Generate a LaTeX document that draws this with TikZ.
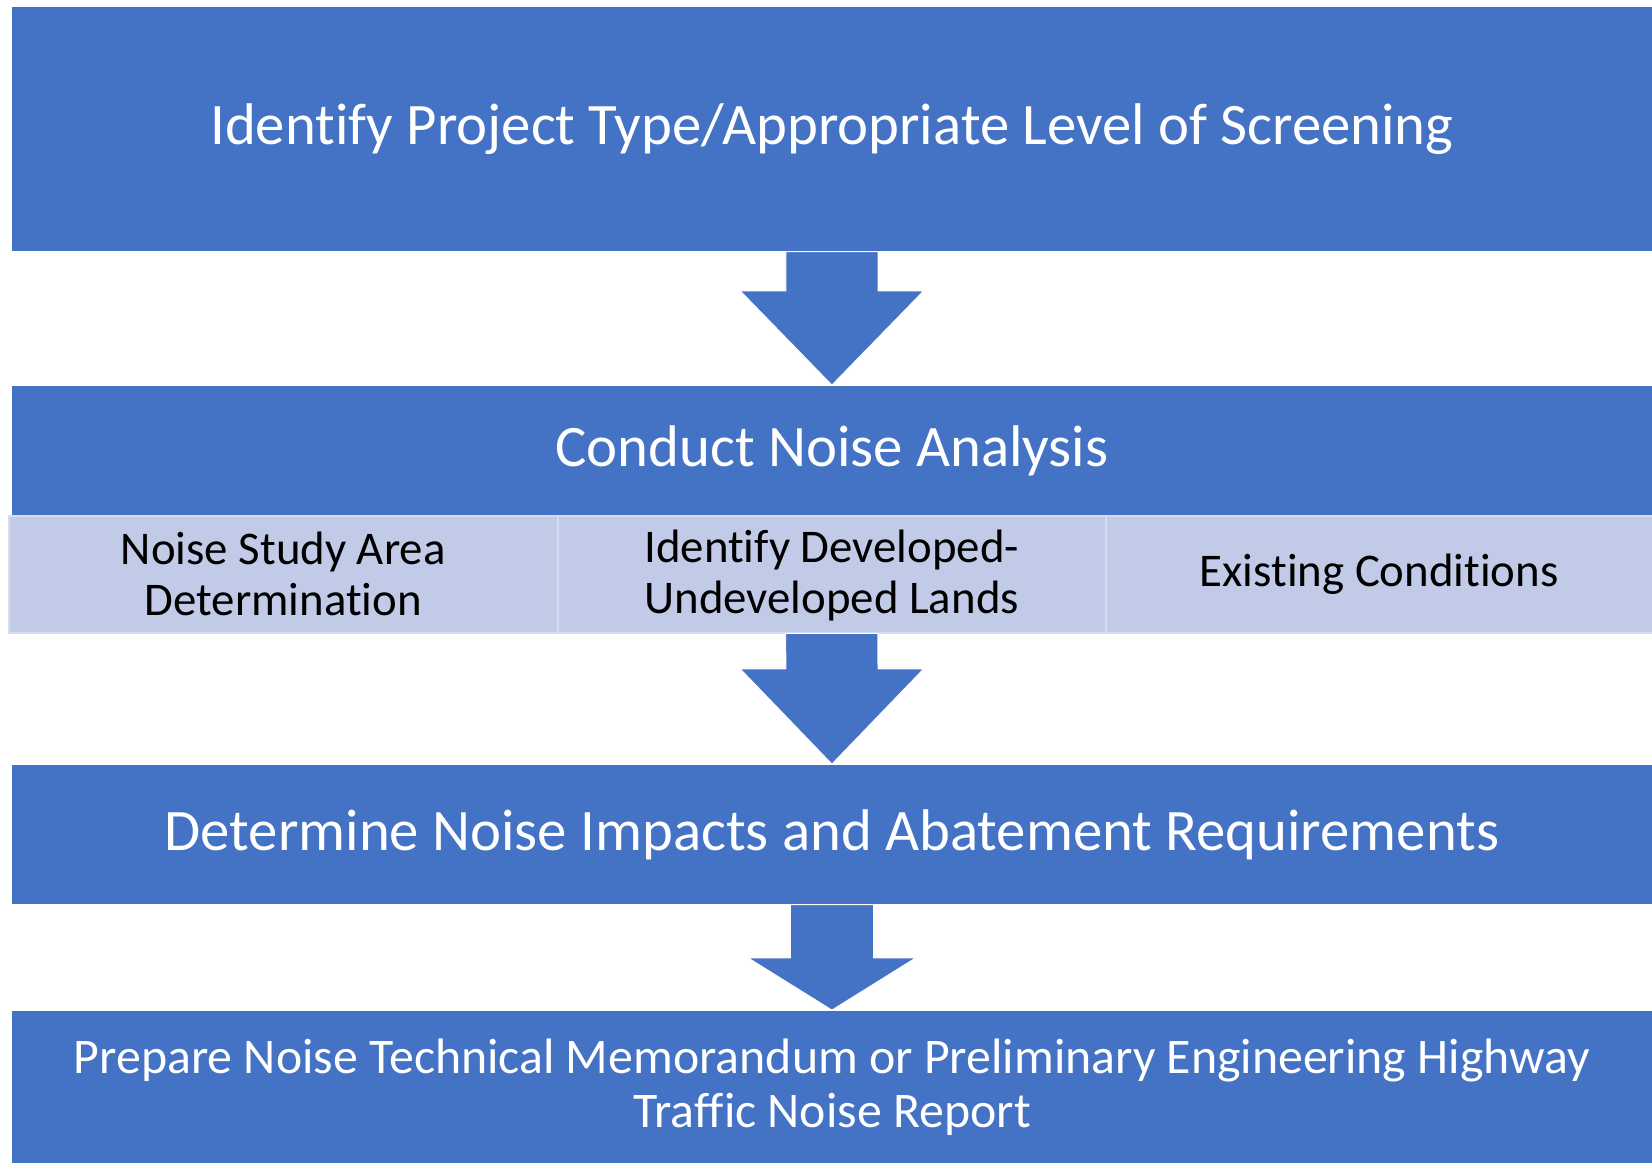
\documentclass[tikz,border=0pt]{standalone}
\usepackage{fontspec}
\setmainfont{Carlito}[RawFeature={-liga;-clig;-dlig;-calt;-rlig}]
\usetikzlibrary{calc}
\definecolor{dblue}{HTML}{4472C4}
\definecolor{lblue}{HTML}{C1CAE6}
\definecolor{lline}{HTML}{D6DCEE}
\tikzset{
  bigbox/.style={rectangle, fill=dblue, draw=white, line width=0.8bp, anchor=north west, inner sep=0pt, text=white, align=center, font=\fontsize{59}{67}\selectfont},
  cellbox/.style={rectangle, fill=lblue, draw=lline, line width=1.5bp, anchor=north west, inner sep=0pt, text=black, align=center, font=\fontsize{47}{51}\selectfont},
  arr/.style={fill=dblue, draw=white, line width=0.8bp}
}
\newcommand\blockarrow[5]{%
  \filldraw[arr] ($(#1.south)+(-#3,0)$) -- ($(#1.south)+(#3,0)$) -- ($(#2.north)+(#3,-#5)$) -- ($(#2.north)+(#4,-#5)$) -- (#2.north) -- ($(#2.north)+(-#4,-#5)$) -- ($(#2.north)+(-#3,-#5)$) -- cycle;}
\begin{document}
\begin{tikzpicture}[x=1bp,y=-1bp]
\useasboundingbox[fill=white] (0,0) rectangle (1652,1163);
\node[bigbox, minimum width=1641bp, minimum height=245bp] (b1) at (11,6) {Identify Project Type/Appropriate Level of Screening};
\node[bigbox, minimum width=1641bp, minimum height=130bp] (b2) at (11,385) {Conduct Noise Analysis};
\node[cellbox, minimum width=549bp, minimum height=117bp] (c1) at (8,515) {Noise Study Area\\Determination};
\node[cellbox, minimum width=548bp, minimum height=117bp] (c2) at (557,515) {\strut Identify Developed-\\Undeveloped Lands};
\node[cellbox, minimum width=547bp, minimum height=117bp] (c3) at (1105,515) {Existing Conditions};
\node[bigbox, minimum width=1641bp, minimum height=140bp] (b3) at (11,764) {Determine Noise Impacts and Abatement Requirements};
\node[bigbox, minimum width=1641bp, minimum height=153bp, font=\fontsize{50}{54}\selectfont] (b4) at (11,1010) {Prepare Noise Technical Memorandum or Preliminary Engineering Highway\\Traffic Noise Report};
\blockarrow{b1}{b2}{46}{91.5}{94}
\blockarrow{c2}{b3}{46}{91.5}{95}
\blockarrow{b3}{b4}{41.5}{83.5}{52}
\end{tikzpicture}
\end{document}
